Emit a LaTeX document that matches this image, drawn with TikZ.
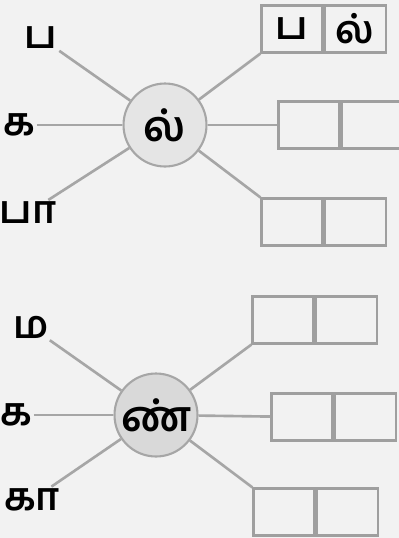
\documentclass[tikz,border=0pt]{standalone}
\usepackage{fontspec}
\newfontfamily\tamilfont[Script=Tamil]{Hind Madurai}
\usetikzlibrary{positioning}

\begin{document}
\begin{tikzpicture}[x=0.02cm,y=-0.02cm,
  lbl/.style={font=\tamilfont\bfseries\fontsize{22}{24}\selectfont,inner sep=1pt},
  hub/.style={circle,draw=gray!70,line width=1.2pt,minimum size=1.66cm,inner sep=0pt,font=\tamilfont\bfseries\fontsize{24}{26}\selectfont},
  cell/.style={draw=gray!75,line width=1.2pt,minimum width=1.22cm,minimum height=0.94cm,inner sep=0pt,font=\tamilfont\bfseries\fontsize{22}{24}\selectfont},
  spoke/.style={draw=gray!70,line width=1.5pt}
]
\fill[black!5] (0,0) rectangle (399,538);
\useasboundingbox (0,0) rectangle (399,538);

% upper hub
\node[hub,fill=white!90!black] (c1) at (165,125) {ல்};
\node[lbl] (pa) at (41,38) {ப};
\node[lbl] (ka1) at (19,125) {க};
\node[lbl] (paa) at (28,213) {பா};

\node[cell] (a1l) at (292,29) {ப};
\node[cell,right=0pt of a1l] (a1r) {ல்};
\node[cell] (a2l) at (309,125) {};
\node[cell,right=0pt of a2l] (a2r) {};
\node[cell] (a3l) at (292,222) {};
\node[cell,right=0pt of a3l] (a3r) {};

\draw[spoke] (pa) -- (c1);
\draw[spoke] (ka1) -- (c1);
\draw[spoke] (paa) -- (c1);
\draw[spoke] (c1) -- (a1l.south west);
\draw[spoke] (c1) -- (a2l);
\draw[spoke] (c1) -- (a3l.north west);

% lower hub
\node[hub,fill=gray!30] (c2) at (156,415) {ண்};
\node[lbl] (ma) at (31,327) {ம};
\node[lbl] (ka2) at (16,415) {க};
\node[lbl,anchor=west] (kaa) at (2,500) {கா};

\node[cell] (b1l) at (283,320) {};
\node[cell,right=0pt of b1l] (b1r) {};
\node[cell] (b2l) at (302,417) {};
\node[cell,right=0pt of b2l] (b2r) {};
\node[cell] (b3l) at (284,512) {};
\node[cell,right=0pt of b3l] (b3r) {};

\draw[spoke] (ma) -- (c2);
\draw[spoke] (ka2) -- (c2);
\draw[spoke] (kaa) -- (c2);
\draw[spoke] (c2) -- (b1l.south west);
\draw[spoke] (c2) -- (b2l);
\draw[spoke] (c2) -- (b3l.north west);
\end{tikzpicture}
\end{document}
